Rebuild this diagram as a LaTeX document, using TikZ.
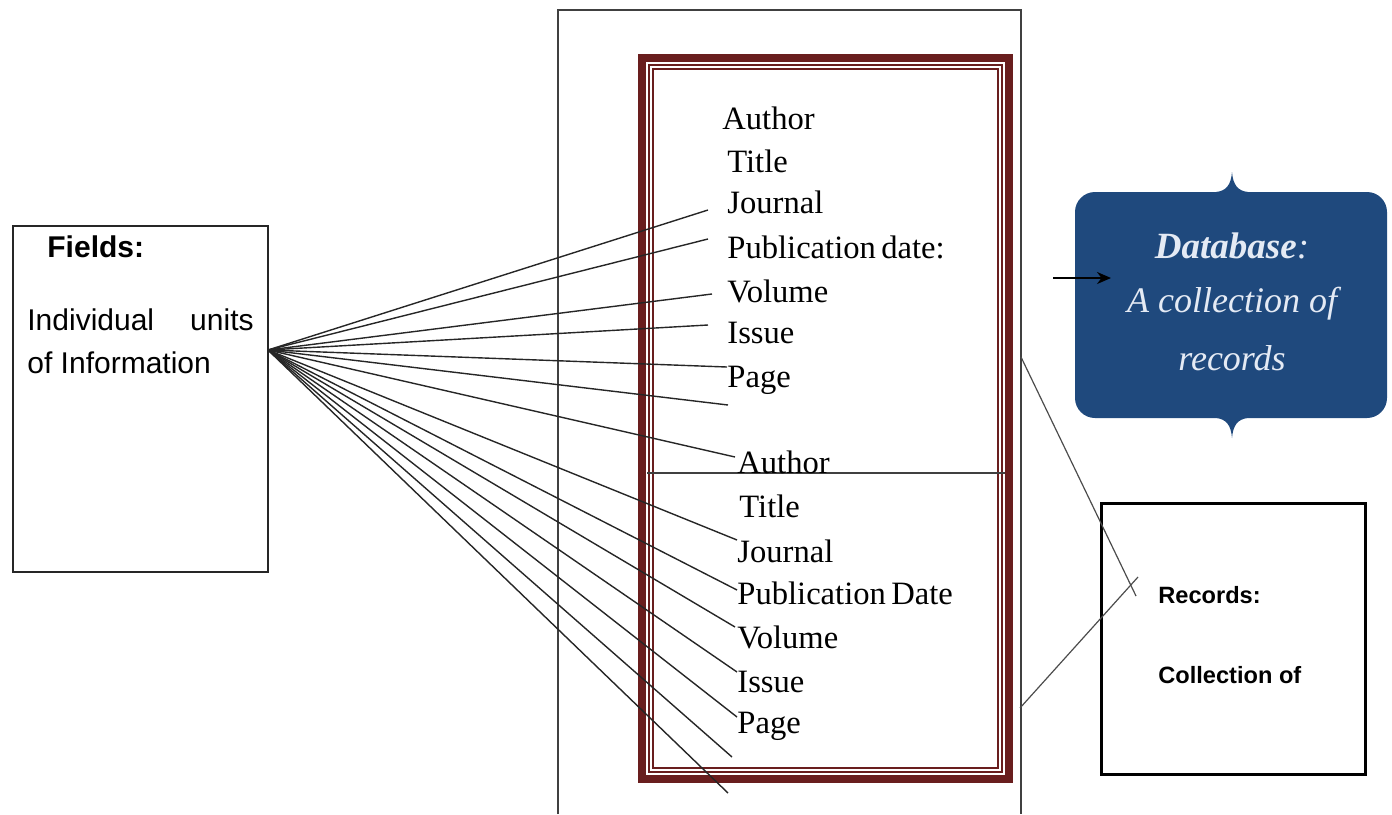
\documentclass[tikz,border=0pt]{standalone}
\usepackage{fontspec}
\setmainfont{Liberation Serif}
\newfontfamily\sansf{Liberation Sans}
\usetikzlibrary{arrows.meta}
\definecolor{maroonf}{RGB}{105,30,30}
\definecolor{dbblue}{RGB}{31,73,125}
\definecolor{dbtext}{RGB}{228,234,244}
\begin{document}
\begin{tikzpicture}[x=0.5pt,y=-0.5pt,
  fld/.style={anchor=base west, inner sep=0pt, font=\fontsize{16.3}{18}\selectfont},
  conn/.style={draw=black!85, line width=0.7pt},
  thinline/.style={draw=black!75, line width=0.6pt},
  sanslbl/.style={anchor=base west, inner sep=0pt, font=\sansf\fontsize{15}{18}\selectfont},
  reclbl/.style={anchor=base west, inner sep=0pt, font=\sansf\bfseries\fontsize{11.8}{14}\selectfont},
  dblbl/.style={anchor=base, inner sep=0pt, text=dbtext, font=\itshape\fontsize{18}{20}\selectfont}]
\useasboundingbox (0,0) rectangle (1392,814);

% Fields box
\node[draw=black!85, line width=0.8pt, minimum width=127.5pt, minimum height=173pt, inner sep=0pt, anchor=north west] (fields) at (12,225) {};
\node[anchor=base west, inner sep=0pt, font=\sansf\bfseries\fontsize{15}{18}\selectfont] (fhead) at (47,257) {Fields:};
\node[sanslbl] (find) at (27,330) {Individual};
\node[sanslbl, anchor=base east] (funits) at (254,330) {units};
\node[sanslbl] (finfo) at (27,373) {of Information};
\coordinate (hub) at (268,350);

% Outer open rectangle
\draw[thinline] (558,814) -- (558,10) -- (1021,10) -- (1021,814);

% Maroon frame
\draw[maroonf, line width=4pt] (642,58) rectangle (1009,779);
\draw[maroonf, line width=1pt] (649,65) rectangle (1002,772);
\draw[maroonf, line width=0.8pt] (653,69) rectangle (998,768);
\draw[thinline] (647,473) -- (1005,473);

% First record fields
\node[fld] (a1) at (722,129) {Author};
\node[fld] (t1) at (727,172) {Title};
\node[fld] (j1) at (727,213) {Journal};
\node[fld] (p1) at (727,258) {Publication\,date:};
\node[fld] (v1) at (727,302) {Volume};
\node[fld] (i1) at (727,343) {Issue};
\node[fld] (g1) at (727,387) {Page};

% Second record fields
\node[fld] (a2) at (737,473) {Author};
\node[fld] (t2) at (739,517) {Title};
\node[fld] (j2) at (737,562) {Journal};
\node[fld] (p2) at (737,604) {Publication\,Date};
\node[fld] (v2) at (737,648) {Volume};
\node[fld] (i2) at (737,692) {Issue};
\node[fld] (g2) at (737,733) {Page};

% Line end points
\coordinate (e1) at (708,210);
\coordinate (e2) at (708,239);
\coordinate (e3) at (712,294);
\coordinate (e4) at (708,325);
\coordinate (e5) at (727,367);
\coordinate (e6) at (728,405);
\coordinate (e7) at (735,457);
\coordinate (e8) at (737,540);
\coordinate (e9) at (737,590);
\coordinate (e10) at (735,627);
\coordinate (e11) at (737,672);
\coordinate (e12) at (737,717);
\coordinate (e13) at (732,757);
\coordinate (e14) at (728,793);
\foreach \k in {1,...,14} {\draw[conn] (hub) -- (e\k);}

% Database callout
\fill[dbblue] (1095,192) -- (1216,192)
  .. controls (1226,191) and (1231,185) .. (1232,172)
  .. controls (1233,185) and (1238,191) .. (1248,192)
  -- (1367,192) arc[start angle=-90, end angle=0, radius=20] -- (1387,398)
  arc[start angle=0, end angle=90, radius=20] -- (1248,418)
  .. controls (1238,419) and (1233,425) .. (1232,438)
  .. controls (1231,425) and (1226,419) .. (1216,418)
  -- (1095,418) arc[start angle=90, end angle=180, radius=20] -- (1075,212)
  arc[start angle=180, end angle=270, radius=20] -- cycle;
\node[dblbl, font=\bfseries\itshape\fontsize{18.5}{20}\selectfont] (db) at (1232,258) {Database{\mdseries:}};
\node[dblbl] (db2) at (1232,312) {A collection of};
\node[dblbl] (db3) at (1232,370) {records};
\coordinate (arrs) at (1053,278);
\coordinate (arre) at (1111,278);
\draw[black, line width=1.1pt, -{Stealth[length=7pt,width=6pt]}] (arrs) -- (arre);

% Records box
\node[draw=black, line width=1.5pt, minimum width=132pt, minimum height=135.5pt, inner sep=0pt, anchor=north west] (records) at (1100,502) {};
\node[reclbl] (rhead) at (1158,603) {Records:};
\node[reclbl] (rcoll) at (1158,683) {Collection of};
\coordinate (c1) at (1021,357);
\coordinate (c2) at (1136,596);
\coordinate (c3) at (1020,708);
\coordinate (c4) at (1138,577);
\draw[thinline, draw=black!70] (c1) -- (c2);
\draw[thinline, draw=black!70] (c3) -- (c4);
\end{tikzpicture}
\end{document}
